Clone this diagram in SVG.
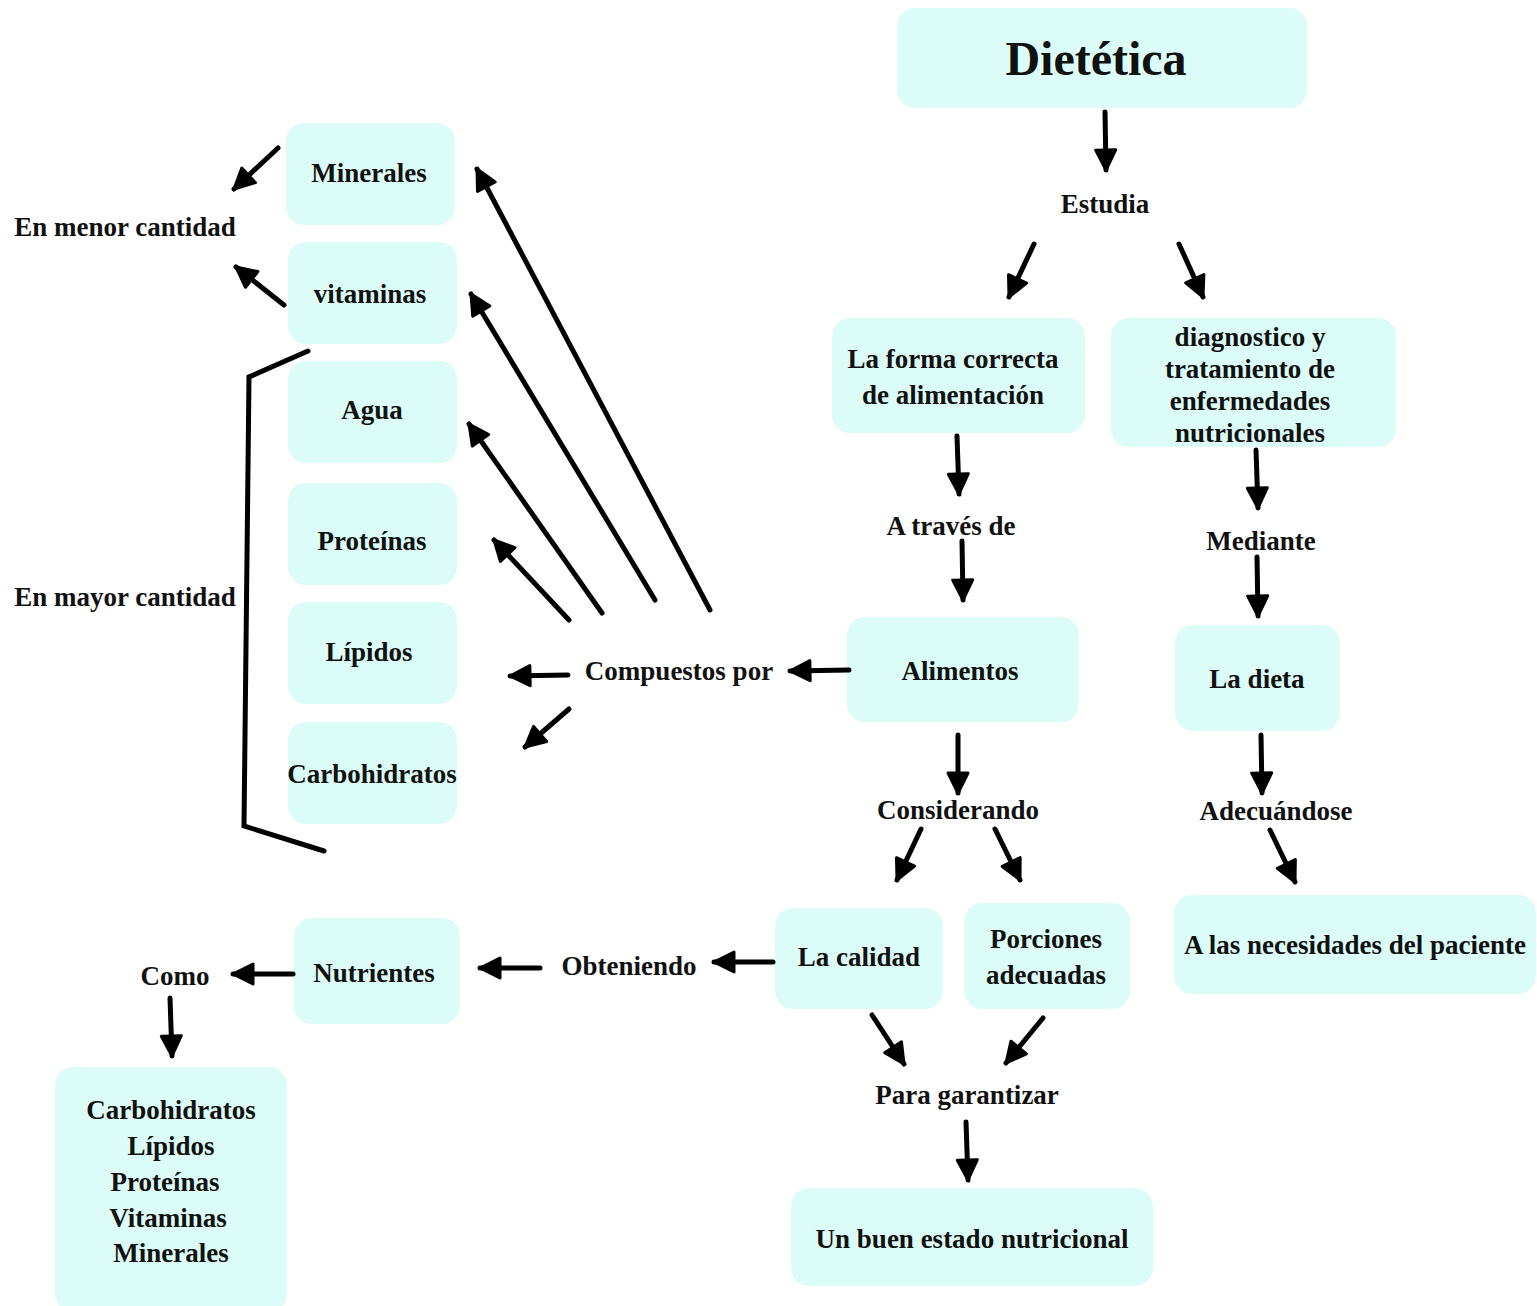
<svg xmlns="http://www.w3.org/2000/svg" width="1537" height="1306" viewBox="0 0 1537 1306">
<style>
.box{fill:#dcfdf7;}
text{font-family:"Liberation Serif","DejaVu Serif",serif;font-weight:bold;fill:#111;text-anchor:middle;font-size:27px;}
.title{font-size:48px;}
.c line,.c polyline{stroke:#000;stroke-width:5;stroke-linecap:round;fill:none;}
</style>
<defs>
<marker id="ah" markerUnits="userSpaceOnUse" markerWidth="30" markerHeight="30" refX="22" refY="12" orient="auto" viewBox="0 0 30 24">
<path d="M2,2 L22,12 L2,22 Z" fill="#000" stroke="#000" stroke-width="3" stroke-linejoin="round"/>
</marker>
</defs>
<rect width="1537" height="1306" fill="#fff"/>

<g id="n-dietetica"><rect class="box" x="897" y="8" width="410" height="100" rx="18"/><text class="title" x="1096" y="75">Dietética</text></g>
<g id="n-estudia"><text x="1105" y="213">Estudia</text></g>
<g id="n-forma"><rect class="box" x="832" y="318" width="253" height="115" rx="18"/><text x="953" y="368">La forma correcta</text><text x="953" y="404">de alimentación</text></g>
<g id="n-diagnostico"><rect class="box" x="1111" y="318" width="285" height="129" rx="18"/><text x="1250" y="346">diagnostico y</text><text x="1250" y="378">tratamiento de</text><text x="1250" y="410">enfermedades</text><text x="1250" y="442">nutricionales</text></g>
<g id="n-atraves"><text x="951" y="535">A través de</text></g>
<g id="n-mediante"><text x="1261" y="550">Mediante</text></g>
<g id="n-alimentos"><rect class="box" x="847" y="617" width="232" height="105" rx="18"/><text x="960" y="680">Alimentos</text></g>
<g id="n-dieta"><rect class="box" x="1175" y="625" width="165" height="106" rx="18"/><text x="1257" y="688">La dieta</text></g>
<g id="n-compuestos"><text x="679" y="680">Compuestos por</text></g>
<g id="n-minerales"><rect class="box" x="286" y="123" width="169" height="102" rx="18"/><text x="369" y="182">Minerales</text></g>
<g id="n-vitaminas"><rect class="box" x="288" y="242" width="169" height="102" rx="18"/><text x="370" y="303">vitaminas</text></g>
<g id="n-agua"><rect class="box" x="288" y="361" width="169" height="102" rx="18"/><text x="372" y="419">Agua</text></g>
<g id="n-proteinas"><rect class="box" x="288" y="483" width="169" height="102" rx="18"/><text x="372" y="550">Proteínas</text></g>
<g id="n-lipidos"><rect class="box" x="288" y="602" width="169" height="102" rx="18"/><text x="369" y="661">Lípidos</text></g>
<g id="n-carbohidratos"><rect class="box" x="288" y="722" width="169" height="102" rx="18"/><text x="372" y="783">Carbohidratos</text></g>
<g id="n-menor"><text x="125" y="236">En menor cantidad</text></g>
<g id="n-mayor"><text x="125" y="606">En mayor cantidad</text></g>
<g id="n-adecuandose"><text x="1276" y="820">Adecuándose</text></g>
<g id="n-necesidades"><rect class="box" x="1174" y="895" width="362" height="99" rx="18"/><text x="1355" y="954">A las necesidades del paciente</text></g>
<g id="n-considerando"><text x="958" y="819">Considerando</text></g>
<g id="n-calidad"><rect class="box" x="775" y="908" width="168" height="101" rx="18"/><text x="859" y="966">La calidad</text></g>
<g id="n-porciones"><rect class="box" x="964" y="903" width="166" height="106" rx="18"/><text x="1046" y="948">Porciones</text><text x="1046" y="984">adecuadas</text></g>
<g id="n-garantizar"><text x="967" y="1104">Para garantizar</text></g>
<g id="n-buen"><rect class="box" x="791" y="1188" width="362" height="98" rx="18"/><text x="972" y="1248">Un buen estado nutricional</text></g>
<g id="n-obteniendo"><text x="629" y="975">Obteniendo</text></g>
<g id="n-nutrientes"><rect class="box" x="294" y="918" width="166" height="106" rx="18"/><text x="374" y="982">Nutrientes</text></g>
<g id="n-como"><text x="175" y="985">Como</text></g>
<g id="n-lista"><rect class="box" x="55" y="1067" width="232" height="245" rx="18"/><text x="171" y="1119">Carbohidratos</text><text x="171" y="1155">Lípidos</text><text x="165" y="1191">Proteínas</text><text x="168" y="1227">Vitaminas</text><text x="171" y="1262">Minerales</text></g>

<g id="connectors" class="c">
<line x1="1105" y1="112" x2="1106" y2="170" marker-end="url(#ah)"/>
<line x1="1034" y1="244" x2="1009" y2="297" marker-end="url(#ah)"/>
<line x1="1179" y1="244" x2="1203" y2="297" marker-end="url(#ah)"/>
<line x1="957" y1="436" x2="959" y2="494" marker-end="url(#ah)"/>
<line x1="962" y1="541" x2="963" y2="600" marker-end="url(#ah)"/>
<line x1="849" y1="670" x2="790" y2="671" marker-end="url(#ah)"/>
<line x1="568" y1="675" x2="510" y2="676" marker-end="url(#ah)"/>
<line x1="569" y1="709" x2="525" y2="747" marker-end="url(#ah)"/>
<line x1="569" y1="620" x2="494" y2="540" marker-end="url(#ah)"/>
<line x1="602" y1="613" x2="469" y2="424" marker-end="url(#ah)"/>
<line x1="655" y1="600" x2="471" y2="294" marker-end="url(#ah)"/>
<line x1="710" y1="610" x2="477" y2="169" marker-end="url(#ah)"/>
<line x1="278" y1="148" x2="234" y2="189" marker-end="url(#ah)"/>
<line x1="284" y1="305" x2="236" y2="267" marker-end="url(#ah)"/>
<polyline points="308,351 249,377 244,826 324,851"/>
<line x1="1256" y1="450" x2="1258" y2="508" marker-end="url(#ah)"/>
<line x1="1257" y1="557" x2="1258" y2="616" marker-end="url(#ah)"/>
<line x1="1261" y1="735" x2="1262" y2="793" marker-end="url(#ah)"/>
<line x1="1270" y1="830" x2="1295" y2="882" marker-end="url(#ah)"/>
<line x1="958" y1="735" x2="958" y2="793" marker-end="url(#ah)"/>
<line x1="921" y1="829" x2="897" y2="880" marker-end="url(#ah)"/>
<line x1="995" y1="829" x2="1020" y2="880" marker-end="url(#ah)"/>
<line x1="872" y1="1015" x2="904" y2="1064" marker-end="url(#ah)"/>
<line x1="1043" y1="1018" x2="1006" y2="1063" marker-end="url(#ah)"/>
<line x1="966" y1="1122" x2="968" y2="1180" marker-end="url(#ah)"/>
<line x1="773" y1="962" x2="714" y2="962" marker-end="url(#ah)"/>
<line x1="540" y1="968" x2="480" y2="968" marker-end="url(#ah)"/>
<line x1="293" y1="974" x2="233" y2="974" marker-end="url(#ah)"/>
<line x1="170" y1="998" x2="172" y2="1056" marker-end="url(#ah)"/>
</g>
</svg>
